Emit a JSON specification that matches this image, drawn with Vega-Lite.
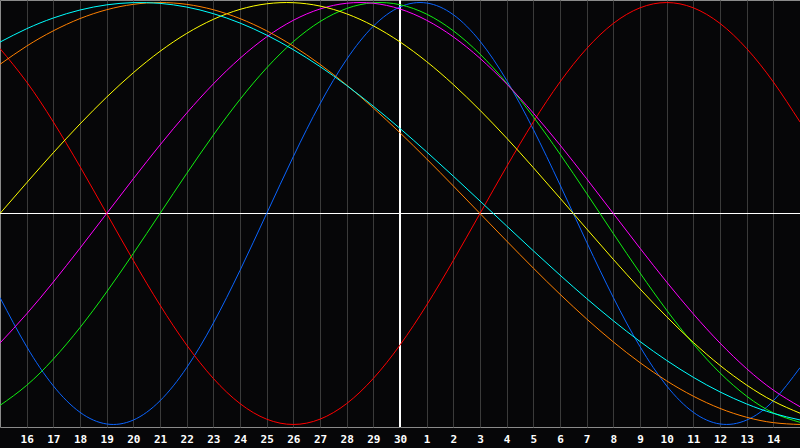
{
"$schema": "https://vega.github.io/schema/vega-lite/v6.json",
"width": 800, "height": 427,
"autosize": {"type": "none"},
"padding": {"left": 0, "top": 0, "right": 0, "bottom": 21},
"background": "#060608",
"config": {"view": {"stroke": "#8a8a8a", "strokeWidth": 1, "fill": "#060608"}, "axis": {"labelOverlap": false, "labelSeparation": 0, "labelBound": false}},
"datasets": {"bio": [
{"c":"Physical","k":0,"v":-0.3984},{"c":"Physical","k":1,"v":-0.6311},{"c":"Physical","k":2,"v":-0.8170},{"c":"Physical","k":3,"v":-0.9423},{"c":"Physical","k":4,"v":-0.9977},{"c":"Physical","k":5,"v":-0.9791},{"c":"Physical","k":6,"v":-0.8879},{"c":"Physical","k":7,"v":-0.7308},{"c":"Physical","k":8,"v":-0.5196},{"c":"Physical","k":9,"v":-0.2698},{"c":"Physical","k":10,"v":0},{"c":"Physical","k":11,"v":0.2698},{"c":"Physical","k":12,"v":0.5196},{"c":"Physical","k":13,"v":0.7308},{"c":"Physical","k":14,"v":0.8879},{"c":"Physical","k":15,"v":0.9791},{"c":"Physical","k":16,"v":0.9977},{"c":"Physical","k":17,"v":0.9423},{"c":"Physical","k":18,"v":0.8170},{"c":"Physical","k":19,"v":0.6311},{"c":"Physical","k":20,"v":0.3984},{"c":"Physical","k":21,"v":0.1362},{"c":"Physical","k":22,"v":-0.1362},{"c":"Physical","k":23,"v":-0.3984},{"c":"Physical","k":24,"v":-0.6311},{"c":"Physical","k":25,"v":-0.8170},{"c":"Physical","k":26,"v":-0.9423},{"c":"Physical","k":27,"v":-0.9977},{"c":"Physical","k":28,"v":-0.9791},{"c":"Physical","k":29,"v":-0.8879},{"c":"Physical","k":30,"v":-0.7308},
{"c":"Emotional","k":0,"v":0.7818},{"c":"Emotional","k":1,"v":0.6235},{"c":"Emotional","k":2,"v":0.4339},{"c":"Emotional","k":3,"v":0.2225},{"c":"Emotional","k":4,"v":0},{"c":"Emotional","k":5,"v":-0.2225},{"c":"Emotional","k":6,"v":-0.4339},{"c":"Emotional","k":7,"v":-0.6235},{"c":"Emotional","k":8,"v":-0.7818},{"c":"Emotional","k":9,"v":-0.9010},{"c":"Emotional","k":10,"v":-0.9749},{"c":"Emotional","k":11,"v":-1},{"c":"Emotional","k":12,"v":-0.9749},{"c":"Emotional","k":13,"v":-0.9010},{"c":"Emotional","k":14,"v":-0.7818},{"c":"Emotional","k":15,"v":-0.6235},{"c":"Emotional","k":16,"v":-0.4339},{"c":"Emotional","k":17,"v":-0.2225},{"c":"Emotional","k":18,"v":0},{"c":"Emotional","k":19,"v":0.2225},{"c":"Emotional","k":20,"v":0.4339},{"c":"Emotional","k":21,"v":0.6235},{"c":"Emotional","k":22,"v":0.7818},{"c":"Emotional","k":23,"v":0.9010},{"c":"Emotional","k":24,"v":0.9749},{"c":"Emotional","k":25,"v":1},{"c":"Emotional","k":26,"v":0.9749},{"c":"Emotional","k":27,"v":0.9010},{"c":"Emotional","k":28,"v":0.7818},{"c":"Emotional","k":29,"v":0.6235},{"c":"Emotional","k":30,"v":0.4339},
{"c":"Intellectual","k":0,"v":-0.9096},{"c":"Intellectual","k":1,"v":-0.8146},{"c":"Intellectual","k":2,"v":-0.6901},{"c":"Intellectual","k":3,"v":-0.5406},{"c":"Intellectual","k":4,"v":-0.3717},{"c":"Intellectual","k":5,"v":-0.1893},{"c":"Intellectual","k":6,"v":0},{"c":"Intellectual","k":7,"v":0.1893},{"c":"Intellectual","k":8,"v":0.3717},{"c":"Intellectual","k":9,"v":0.5406},{"c":"Intellectual","k":10,"v":0.6901},{"c":"Intellectual","k":11,"v":0.8146},{"c":"Intellectual","k":12,"v":0.9096},{"c":"Intellectual","k":13,"v":0.9718},{"c":"Intellectual","k":14,"v":0.9989},{"c":"Intellectual","k":15,"v":0.9898},{"c":"Intellectual","k":16,"v":0.9450},{"c":"Intellectual","k":17,"v":0.8660},{"c":"Intellectual","k":18,"v":0.7557},{"c":"Intellectual","k":19,"v":0.6182},{"c":"Intellectual","k":20,"v":0.4582},{"c":"Intellectual","k":21,"v":0.2817},{"c":"Intellectual","k":22,"v":0.0951},{"c":"Intellectual","k":23,"v":-0.0951},{"c":"Intellectual","k":24,"v":-0.2817},{"c":"Intellectual","k":25,"v":-0.4582},{"c":"Intellectual","k":26,"v":-0.6182},{"c":"Intellectual","k":27,"v":-0.7557},{"c":"Intellectual","k":28,"v":-0.8660},{"c":"Intellectual","k":29,"v":-0.9450},{"c":"Intellectual","k":30,"v":-0.9898},
{"c":"Intuitive","k":0,"v":-0.6142},{"c":"Intuitive","k":1,"v":-0.4759},{"c":"Intuitive","k":2,"v":-0.3247},{"c":"Intuitive","k":3,"v":-0.1646},{"c":"Intuitive","k":4,"v":0},{"c":"Intuitive","k":5,"v":0.1646},{"c":"Intuitive","k":6,"v":0.3247},{"c":"Intuitive","k":7,"v":0.4759},{"c":"Intuitive","k":8,"v":0.6142},{"c":"Intuitive","k":9,"v":0.7357},{"c":"Intuitive","k":10,"v":0.8372},{"c":"Intuitive","k":11,"v":0.9158},{"c":"Intuitive","k":12,"v":0.9694},{"c":"Intuitive","k":13,"v":0.9966},{"c":"Intuitive","k":14,"v":0.9966},{"c":"Intuitive","k":15,"v":0.9694},{"c":"Intuitive","k":16,"v":0.9158},{"c":"Intuitive","k":17,"v":0.8372},{"c":"Intuitive","k":18,"v":0.7357},{"c":"Intuitive","k":19,"v":0.6142},{"c":"Intuitive","k":20,"v":0.4759},{"c":"Intuitive","k":21,"v":0.3247},{"c":"Intuitive","k":22,"v":0.1646},{"c":"Intuitive","k":23,"v":0},{"c":"Intuitive","k":24,"v":-0.1646},{"c":"Intuitive","k":25,"v":-0.3247},{"c":"Intuitive","k":26,"v":-0.4759},{"c":"Intuitive","k":27,"v":-0.6142},{"c":"Intuitive","k":28,"v":-0.7357},{"c":"Intuitive","k":29,"v":-0.8372},{"c":"Intuitive","k":30,"v":-0.9158},
{"c":"Aesthetic","k":0,"v":0},{"c":"Aesthetic","k":1,"v":0.1456},{"c":"Aesthetic","k":2,"v":0.2881},{"c":"Aesthetic","k":3,"v":0.4245},{"c":"Aesthetic","k":4,"v":0.5517},{"c":"Aesthetic","k":5,"v":0.6673},{"c":"Aesthetic","k":6,"v":0.7686},{"c":"Aesthetic","k":7,"v":0.8535},{"c":"Aesthetic","k":8,"v":0.9203},{"c":"Aesthetic","k":9,"v":0.9675},{"c":"Aesthetic","k":10,"v":0.9940},{"c":"Aesthetic","k":11,"v":0.9993},{"c":"Aesthetic","k":12,"v":0.9834},{"c":"Aesthetic","k":13,"v":0.9465},{"c":"Aesthetic","k":14,"v":0.8894},{"c":"Aesthetic","k":15,"v":0.8133},{"c":"Aesthetic","k":16,"v":0.7199},{"c":"Aesthetic","k":17,"v":0.6112},{"c":"Aesthetic","k":18,"v":0.4894},{"c":"Aesthetic","k":19,"v":0.3573},{"c":"Aesthetic","k":20,"v":0.2174},{"c":"Aesthetic","k":21,"v":0.0730},{"c":"Aesthetic","k":22,"v":-0.0730},{"c":"Aesthetic","k":23,"v":-0.2174},{"c":"Aesthetic","k":24,"v":-0.3573},{"c":"Aesthetic","k":25,"v":-0.4894},{"c":"Aesthetic","k":26,"v":-0.6112},{"c":"Aesthetic","k":27,"v":-0.7199},{"c":"Aesthetic","k":28,"v":-0.8133},{"c":"Aesthetic","k":29,"v":-0.8894},{"c":"Aesthetic","k":30,"v":-0.9465},
{"c":"Awareness","k":0,"v":0.7071},{"c":"Awareness","k":1,"v":0.7934},{"c":"Awareness","k":2,"v":0.8660},{"c":"Awareness","k":3,"v":0.9239},{"c":"Awareness","k":4,"v":0.9659},{"c":"Awareness","k":5,"v":0.9914},{"c":"Awareness","k":6,"v":1},{"c":"Awareness","k":7,"v":0.9914},{"c":"Awareness","k":8,"v":0.9659},{"c":"Awareness","k":9,"v":0.9239},{"c":"Awareness","k":10,"v":0.8660},{"c":"Awareness","k":11,"v":0.7934},{"c":"Awareness","k":12,"v":0.7071},{"c":"Awareness","k":13,"v":0.6088},{"c":"Awareness","k":14,"v":0.5},{"c":"Awareness","k":15,"v":0.3827},{"c":"Awareness","k":16,"v":0.2588},{"c":"Awareness","k":17,"v":0.1305},{"c":"Awareness","k":18,"v":0},{"c":"Awareness","k":19,"v":-0.1305},{"c":"Awareness","k":20,"v":-0.2588},{"c":"Awareness","k":21,"v":-0.3827},{"c":"Awareness","k":22,"v":-0.5},{"c":"Awareness","k":23,"v":-0.6088},{"c":"Awareness","k":24,"v":-0.7071},{"c":"Awareness","k":25,"v":-0.7934},{"c":"Awareness","k":26,"v":-0.8660},{"c":"Awareness","k":27,"v":-0.9239},{"c":"Awareness","k":28,"v":-0.9659},{"c":"Awareness","k":29,"v":-0.9914},{"c":"Awareness","k":30,"v":-1},
{"c":"Spiritual","k":0,"v":0.8125},{"c":"Spiritual","k":1,"v":0.8758},{"c":"Spiritual","k":2,"v":0.9267},{"c":"Spiritual","k":3,"v":0.9646},{"c":"Spiritual","k":4,"v":0.9890},{"c":"Spiritual","k":5,"v":0.9996},{"c":"Spiritual","k":6,"v":0.9961},{"c":"Spiritual","k":7,"v":0.9786},{"c":"Spiritual","k":8,"v":0.9473},{"c":"Spiritual","k":9,"v":0.9028},{"c":"Spiritual","k":10,"v":0.8457},{"c":"Spiritual","k":11,"v":0.7765},{"c":"Spiritual","k":12,"v":0.6965},{"c":"Spiritual","k":13,"v":0.6068},{"c":"Spiritual","k":14,"v":0.5085},{"c":"Spiritual","k":15,"v":0.4031},{"c":"Spiritual","k":16,"v":0.2920},{"c":"Spiritual","k":17,"v":0.1769},{"c":"Spiritual","k":18,"v":0.0592},{"c":"Spiritual","k":19,"v":-0.0592},{"c":"Spiritual","k":20,"v":-0.1769},{"c":"Spiritual","k":21,"v":-0.2920},{"c":"Spiritual","k":22,"v":-0.4031},{"c":"Spiritual","k":23,"v":-0.5085},{"c":"Spiritual","k":24,"v":-0.6068},{"c":"Spiritual","k":25,"v":-0.6965},{"c":"Spiritual","k":26,"v":-0.7765},{"c":"Spiritual","k":27,"v":-0.8457},{"c":"Spiritual","k":28,"v":-0.9028},{"c":"Spiritual","k":29,"v":-0.9473},{"c":"Spiritual","k":30,"v":-0.9786}
]},
"data": {"name": "bio"},
"layer": [
{"mark": {"type": "rule", "color": "#ffffff", "strokeWidth": 1},
 "encoding": {"y": {"datum": 0, "type": "quantitative", "scale": {"domain": [-1.012, 1.012], "nice": false, "zero": false}, "axis": null}}},
{"mark": {"type": "rule", "color": "#ffffff", "strokeWidth": 1},
 "encoding": {"x": {"datum": 15, "type": "quantitative", "scale": {"domain": [0, 30], "nice": false, "zero": false}}}},
{"mark": {"type": "line", "strokeWidth": 1, "interpolate": "natural", "clip": true},
 "encoding": {
  "x": {"field": "k", "type": "quantitative",
        "scale": {"domain": [0, 30], "nice": false, "zero": false},
        "axis": {"values": [1,2,3,4,5,6,7,8,9,10,11,12,13,14,15,16,17,18,19,20,21,22,23,24,25,26,27,28,29],
                 "tickCount": 30,
                 "labelExpr": "'' + (datum.value <= 15 ? datum.value + 15 : datum.value - 15)",
                 "grid": true, "gridColor": "#3a3a3a", "gridWidth": 1, "ticks": false, "tickSize": 0, "domain": false,
                 "labelColor": "#ffffff", "labelFont": "DejaVu Sans Mono", "labelFontWeight": "bold", "labelFontSize": 11,
                 "labelPadding": 6, "labelBaseline": "top", "labelAlign": "center", "labelFlush": false, "labelOverlap": false, "labelSeparation": 0, "title": null}},
  "y": {"field": "v", "type": "quantitative", "scale": {"domain": [-1.012, 1.012], "nice": false, "zero": false}, "axis": null},
  "color": {"field": "c", "type": "nominal",
            "scale": {"domain": ["Physical","Emotional","Intellectual","Intuitive","Aesthetic","Awareness","Spiritual"],
                      "range": ["#0a64ff","#ff0000","#10f010","#ff00ff","#ffff00","#ff8000","#00ffff"]},
            "legend": null}
 }}
]
}
